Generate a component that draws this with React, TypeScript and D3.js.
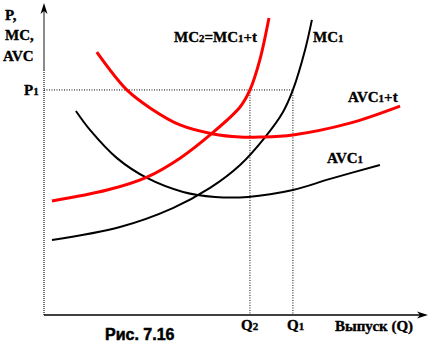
import React from "react";
import * as d3 from "d3";

// Data (quantity q, price/cost p) in abstract units
const mc1Q = [2.1, 20.0, 33.9, 43.7, 51.6, 58.2, 62.9, 65.5, 68.7, 70.5];
const mc1P = [24.2, 28.4, 34.5, 41.0, 48.4, 57.4, 65.5, 72.6, 85.5, 95.2];

const mc2Q = [2.1, 16.6, 27.1, 35.8, 43.7, 51.6, 54.2, 56.8, 59.2];
const mc2P = [36.8, 40.3, 44.5, 50.6, 58.1, 67.1, 72.6, 82.3, 95.8];

const avctQ = [13.9, 21.8, 27.9, 35.8, 44.5, 51.6, 56.8, 65.5, 80.5, 93.7];
const avctP = [84.8, 72.6, 66.8, 61.3, 58.4, 57.4, 57.4, 58.1, 61.9, 67.4];

const avcQ = [8.4, 12.1, 19.2, 27.1, 36.6, 45.0, 53.7, 65.5, 75.3, 88.4];
const avcP = [65.8, 59.7, 50.6, 44.2, 39.7, 38.1, 38.1, 40.3, 43.9, 48.4];

const P1 = 72.6;
const Q2 = 54.2;
const Q1 = 65.5;

const W = 434;
const H = 355;

export default function App() {
  const x = d3.scaleLinear().domain([0, 100]).range([44, 424]);
  const y = d3.scaleLinear().domain([0, 100]).range([315, 5]);

  const line = d3
    .line<[number, number]>()
    .x((d) => x(d[0]))
    .y((d) => y(d[1]))
    .curve(d3.curveCatmullRom.alpha(0.5));

  const zip = (a: number[], b: number[]) => a.map((v, i) => [v, b[i]] as [number, number]);

  const serif = "'Liberation Serif', 'Times New Roman', serif";
  const sans = "'Liberation Sans', Arial, sans-serif";
  const lbl = {
    fontFamily: serif,
    fontWeight: 700,
    fontSize: 15,
    fill: "#000",
    stroke: "#000",
    strokeWidth: 0.35,
  } as const;
  const sub = { fontSize: 11 } as const;

  const x0 = x(0);
  const yBase = y(0);

  return (
    <svg
      width={W}
      height={H}
      style={{ position: "absolute", left: 0, top: 0, background: "#fff" }}
    >
      <rect width={W} height={H} fill="#fff" />
      {/* y axis */}
      <line x1={x0} x2={x0} y1={10} y2={70} stroke="#8a8a8a" strokeWidth={2} />
      <line x1={x0} x2={x0} y1={70} y2={yBase} stroke="#000" strokeWidth={2} strokeDasharray="1 1" opacity={0.55} />
      <path d={`M${x0},3 L${x0 - 3.5},14 L${x0},11 L${x0 + 3.5},14 Z`} fill="#000" />
      {/* x axis */}
      <line x1={x0} x2={424} y1={yBase} y2={yBase} stroke="#000" strokeWidth={1.5} />
      <path d={`M428,${yBase} L417,${yBase - 3.5} L420,${yBase} L417,${yBase + 3.5} Z`} fill="#000" />

      {/* dotted guides */}
      <line x1={x0} x2={x(Q1)} y1={y(P1)} y2={y(P1)} stroke="#000" strokeWidth={1} strokeDasharray="1 1.5" />
      <line x1={x(Q2)} x2={x(Q2)} y1={y(P1)} y2={yBase} stroke="#000" strokeWidth={1} strokeDasharray="1 1.5" />
      <line x1={x(Q1)} x2={x(Q1)} y1={y(P1)} y2={yBase} stroke="#000" strokeWidth={1} strokeDasharray="1 1.5" />

      {/* curves */}
      <path d={line(zip(avcQ, avcP)) || ""} fill="none" stroke="#000" strokeWidth={2} />
      <path d={line(zip(mc1Q, mc1P)) || ""} fill="none" stroke="#000" strokeWidth={2} />
      <path d={line(zip(avctQ, avctP)) || ""} fill="none" stroke="#ff0000" strokeWidth={3} />
      <path d={line(zip(mc2Q, mc2P)) || ""} fill="none" stroke="#ff0000" strokeWidth={3} />

      {/* y labels */}
      <text x={5} y={20} {...lbl}>P,</text>
      <text x={5} y={40} {...lbl}>MC,</text>
      <text x={3} y={61} {...lbl}>AVC</text>
      <text x={24} y={95} {...lbl}>
        P<tspan {...sub}>1</tspan>
      </text>

      {/* curve labels */}
      <text x={174} y={42} {...lbl}>
        MC<tspan {...sub}>2</tspan>=MC<tspan {...sub}>1</tspan>+t
      </text>
      <text x={313} y={42} {...lbl}>
        MC<tspan {...sub}>1</tspan>
      </text>
      <text x={348} y={102} {...lbl}>
        AVC<tspan {...sub}>1</tspan>+t
      </text>
      <text x={327} y={163} {...lbl}>
        AVC<tspan {...sub}>1</tspan>
      </text>

      {/* x labels */}
      <text x={241} y={330} {...lbl}>
        Q<tspan {...sub}>2</tspan>
      </text>
      <text x={287} y={330} {...lbl}>
        Q<tspan {...sub}>1</tspan>
      </text>
      <text x={335} y={331} {...lbl}>
        Выпуск (Q)
      </text>
      <text
        x={105}
        y={340}
        fontFamily={sans}
        fontWeight={700}
        fontSize={16}
        stroke="#000"
        strokeWidth={0.5}
      >
        Рис. 7.16
      </text>
    </svg>
  );
}
